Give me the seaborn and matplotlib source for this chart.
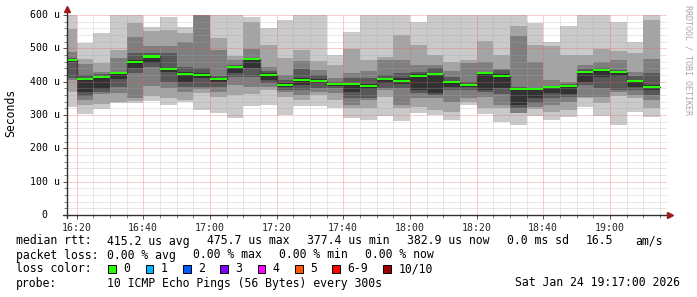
import numpy as np
import pandas as pd
import matplotlib
matplotlib.use("Agg")
import matplotlib.pyplot as plt
import seaborn as sns
from matplotlib.patches import Rectangle
from matplotlib.transforms import blended_transform_factory

# ---------------- data ----------------
# end time of every 5-minute step (SmokePing step = 300 s)
step_end = pd.date_range("2026-01-24 16:20", periods=36, freq="5min")
t_origin = pd.Timestamp("2026-01-24 16:00")
view_start = pd.Timestamp("2026-01-24 16:17")
view_end = pd.Timestamp("2026-01-24 19:17")

# sorted ping round-trip times per step (microseconds), ping 1 (fastest) .. ping 10 (slowest)
p1 = [323, 303, 318, 337, 336, 342, 330, 340, 315, 307, 292, 328, 330, 300, 327, 328, 320, 290,
      285, 298, 283, 305, 300, 285, 330, 303, 280, 270, 297, 285, 293, 325, 297, 270, 310, 293]
p2 = [370, 330, 333, 340, 342, 357, 350, 345, 365, 355, 360, 363, 375, 355, 345, 360, 345, 320,
      320, 355, 320, 325, 315, 310, 340, 320, 320, 305, 318, 310, 315, 350, 335, 357, 350, 320]
p3 = [405, 345, 362, 365, 350, 387, 380, 370, 378, 370, 390, 385, 385, 370, 360, 370, 365, 330,
      345, 375, 330, 350, 350, 340, 350, 353, 330, 305, 323, 330, 340, 355, 353, 370, 360, 345]
p4 = [410, 357, 368, 383, 425, 445, 400, 385, 385, 385, 415, 415, 395, 375, 375, 380, 380, 350,
      350, 380, 380, 365, 360, 375, 375, 370, 363, 320, 337, 350, 355, 390, 380, 375, 375, 360]
p5 = [458, 370, 378, 407, 440, 457, 428, 400, 410, 400, 425, 440, 405, 385, 390, 395, 388, 370,
      378, 395, 392, 375, 365, 385, 385, 375, 380, 330, 350, 365, 362, 400, 415, 417, 385, 375]
p6 = [467, 410, 416, 428, 465, 478, 442, 428, 425, 410, 448, 470, 425, 395, 410, 408, 397, 397,
      392, 412, 410, 422, 425, 403, 393, 428, 422, 380, 380, 387, 390, 433, 437, 432, 405, 390]
p7 = [470, 420, 422, 430, 485, 485, 485, 445, 440, 418, 450, 472, 432, 405, 437, 420, 400, 410,
      410, 420, 425, 430, 440, 415, 400, 430, 435, 385, 381, 388, 392, 437, 440, 435, 417, 427]
p8 = [490, 452, 430, 472, 535, 507, 507, 520, 610, 495, 465, 497, 445, 420, 463, 435, 410, 425,
      433, 465, 465, 450, 450, 433, 455, 460, 437, 537, 460, 405, 400, 450, 460, 465, 430, 467]
p9 = [558, 468, 455, 495, 575, 553, 555, 545, 615, 530, 477, 580, 510, 470, 495, 463, 450, 497,
      465, 475, 540, 510, 480, 460, 465, 522, 480, 567, 510, 507, 480, 480, 497, 493, 485, 585]
p10 = [610, 517, 547, 610, 610, 565, 595, 565, 620, 610, 610, 593, 560, 585, 610, 610, 480, 550,
       610, 610, 610, 580, 610, 610, 610, 610, 610, 610, 575, 520, 567, 610, 610, 580, 518, 600]
median_rtt = [465, 408, 413, 425, 460, 475.7, 438, 422, 420, 407, 445, 467, 421, 390, 405, 402,
              393, 393, 386, 409, 403, 417, 422, 399, 391, 425, 418, 377.4, 378, 384, 386, 430,
              435, 430, 402, 382.9]

smoke_colors = ["#cacaca", "#a4a4a4", "#7e7e7e", "#585858", "#323232"]

y_ticks = [0, 100, 200, 300, 400, 500, 600]
y_tick_labels = ["  0", "100 u", "200 u", "300 u", "400 u", "500 u", "600 u"]
x_tick_times = ["16:20", "16:40", "17:00", "17:20", "17:40", "18:00", "18:20", "18:40", "19:00"]

loss_labels = ["0", "1", "2", "3", "4", "5", "6-9", "10/10"]
loss_colors = ["#26ff00", "#00b8ff", "#0059ff", "#7e00ff", "#ff00ff", "#ff5500", "#ff0000", "#a10000"]

row_median = ["415.2 us avg", "475.7 us max", "377.4 us min", "382.9 us now", "0.0 ms sd", "16.5", "am/s"]
row_loss = ["0.00 % avg", "0.00 % max", "0.00 % min", "0.00 % now"]
probe_text = "10 ICMP Echo Pings (56 Bytes) every 300s"
date_text = "Sat Jan 24 19:17:00 2026"

# ---------------- figure ----------------
sns.set_theme(style="white")
plt.rcParams["font.family"] = ["DejaVu Sans Mono"]
plt.rcParams["text.color"] = "#000000"

W, H = 697, 297
fig = plt.figure(figsize=(W / 100, H / 100), dpi=100, facecolor="white")
ax = fig.add_axes([66.5 / W, 82 / H, 600 / W, 200 / H])
ax.set_facecolor("white")

def minutes(t):
    return (t - t_origin).total_seconds() / 60.0

x_end = np.asarray(minutes(step_end))
step = 5.0
x_left = x_end - step

pings = np.array([p1, p2, p3, p4, p5, p6, p7, p8, p9, p10], dtype=float)
for k, col in enumerate(smoke_colors):
    lo = pings[k]
    hi = pings[9 - k]
    ax.bar(x_left, hi - lo, bottom=lo, width=step, align="edge", color=col,
           linewidth=0, antialiased=False, zorder=1)

med = np.asarray(median_rtt, dtype=float)
line_df = pd.DataFrame({"x": np.append(x_left, x_end[-1]), "y": np.append(med, med[-1])})
sns.lineplot(data=line_df, x="x", y="y", drawstyle="steps-post", color="#202020",
             lw=0.9, estimator=None, ax=ax, zorder=2)

sw = 3.3
ax.bar(x_left, 2 * sw, bottom=med - sw, width=step, align="edge", color=loss_colors[0],
       linewidth=0, antialiased=False, zorder=3)

ax.set_xlim(minutes(view_start), minutes(view_end))
ax.set_ylim(0, 600)
ax.set_xlabel("")
ax.set_ylabel("")

# grid
major_x = [minutes(pd.Timestamp("2026-01-24 " + s)) for s in x_tick_times]
ax.set_xticks(major_x)
ax.set_xticklabels(x_tick_times)
ax.set_xticks(np.arange(minutes(pd.Timestamp("2026-01-24 16:20")), minutes(view_end), 5), minor=True)
ax.set_yticks(y_ticks)
ax.set_yticklabels([])
ax.set_yticks(np.arange(0, 601, 20), minor=True)

ax.set_axisbelow(False)
ax.grid(which="minor", color="#a8a8a8", alpha=0.55, linestyle=(0, (1, 1)), lw=0.72, zorder=4)
ax.grid(which="major", color="#e86060", alpha=0.6, linestyle=(0, (1, 1)), lw=0.72, zorder=4)

for s in ax.spines.values():
    s.set_visible(False)

ax.tick_params(axis="x", which="major", length=3, width=0.7, color="#505050", direction="out",
               labelsize=7.1, pad=2.5, bottom=True)
ax.tick_params(axis="x", which="minor", length=2, width=0.7, color="#808080", direction="out", bottom=True)
ax.tick_params(axis="y", which="major", length=3, width=0.7, color="#505050", direction="out", left=True)
ax.tick_params(axis="y", which="minor", length=2, width=0.7, color="#808080", direction="out", left=True)

# y tick labels (rrdtool-style, fixed column)
trans = blended_transform_factory(fig.transFigure, ax.transData)
for v, lab in zip(y_ticks, y_tick_labels):
    ax.text(30 / W, v, lab, transform=trans, ha="left", va="center", fontsize=7.1, color="#000000")

# axis lines + arrows
axis_col = "#303030"
arrow_col = "#a01818"
ax.plot([(62.5 - 66.5) / 600, (668 - 66.5) / 600], [0, 0], transform=ax.transAxes,
        color=axis_col, lw=1.0, clip_on=False, zorder=6)
ax.plot([0, 0], [(215 - 218) / 200, (215 - 10) / 200], transform=ax.transAxes,
        color=axis_col, lw=1.0, clip_on=False, zorder=6)
ax.plot([(670 - 66.5) / 600], [0], transform=ax.transAxes, marker=">", ms=4.5,
        color=arrow_col, clip_on=False, zorder=7, lw=0)
ax.plot([0], [(215 - 9.5) / 200], transform=ax.transAxes, marker="^", ms=4.5,
        color=arrow_col, clip_on=False, zorder=7, lw=0)

# y axis unit label and watermark
fig.text(11 / W, 1 - 113 / H, "Seconds", rotation=90, ha="center", va="center", fontsize=8.3)
fig.text(688 / W, 1 - 60 / H, "RRDTOOL / TOBI OETIKER", rotation=270, ha="center", va="center",
         fontsize=6.0, color="#a8a8a8")

# legend rows
fs = 8.3
def ftext(x, y, s, **kw):
    fig.text(x / W, 1 - y / H, s, fontsize=fs, va="center", ha=kw.pop("ha", "left"), **kw)

ftext(16, 241, "median rtt:")
for xp, s in zip([107.3, 206.7, 307.3, 407.3, 506.7, 585.8, 635.6], row_median):
    ftext(xp, 241, s)

ftext(16, 255, "packet loss:")
for xp, s in zip([107.3, 193.3, 279.3, 365.3], row_loss):
    ftext(xp, 255, s)

ftext(16, 269, "loss color:")
box_x = [108.3, 145.7, 183.0, 220.3, 257.7, 295.0, 332.3, 383.3]
for bx, lab, col in zip(box_x, loss_labels, loss_colors):
    fig.add_artist(Rectangle((bx / W, 1 - 273 / H), 7.5 / W, 8 / H, transform=fig.transFigure,
                             facecolor=col, edgecolor="black", lw=0.7))
    ftext(bx + 15, 269, lab)

ftext(16, 283, "probe:")
ftext(107.3, 283, probe_text)
ftext(680, 283, date_text, ha="right")

fig.savefig("out.png", dpi=100, facecolor="white")
